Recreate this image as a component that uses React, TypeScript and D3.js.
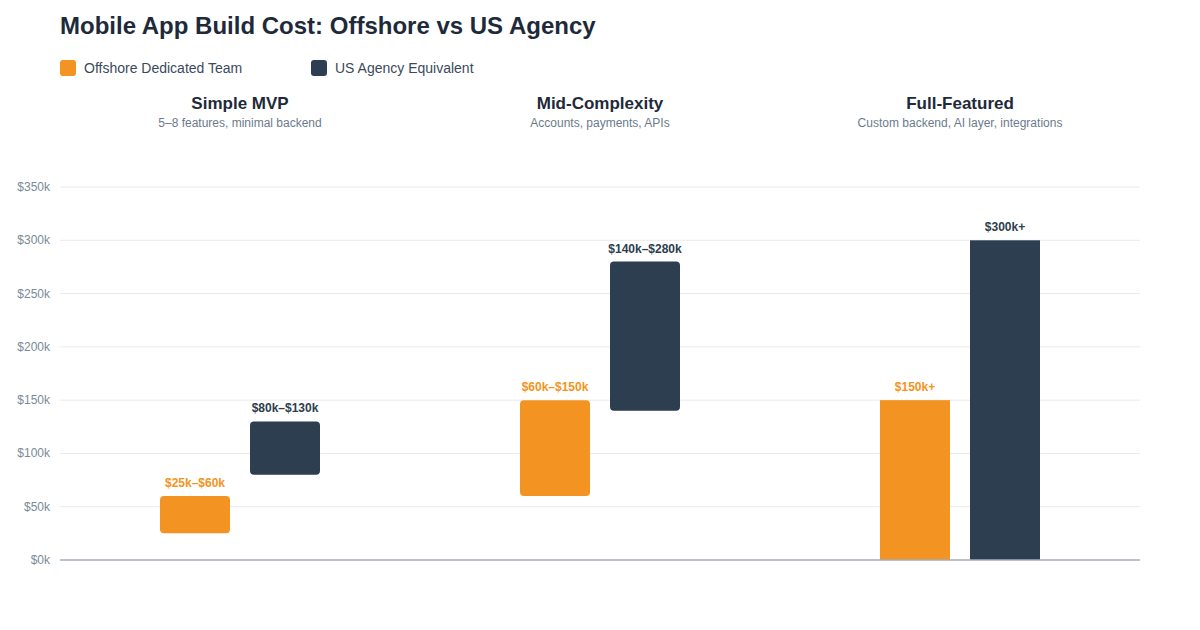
import * as d3 from "d3";

// tiers and their captions
const tiers = ["Simple MVP", "Mid-Complexity", "Full-Featured"];
const tierNotes = [
  "5–8 features, minimal backend",
  "Accounts, payments, APIs",
  "Custom backend, AI layer, integrations",
];

const seriesNames = ["Offshore Dedicated Team", "US Agency Equivalent"];
const seriesColors = ["#f39422", "#2d3e50"];

// cost ranges in $k: [low, high]; open-ended tiers start at 0
const offshoreLow = [25, 60, 0];
const offshoreHigh = [60, 150, 150];
const usLow = [80, 140, 0];
const usHigh = [130, 280, 300];
const openEnded = [false, false, true];

const offshoreLabels = ["$25k–$60k", "$60k–$150k", "$150k+"];
const usLabels = ["$80k–$130k", "$140k–$280k", "$300k+"];

const yTicks = [0, 50, 100, 150, 200, 250, 300, 350];

const W = 1200;
const H = 630;
const M = { left: 60, right: 60, top: 187, bottom: 70 };
const FONT = "'Liberation Sans', Arial, Helvetica, sans-serif";

export default function App() {
  const x = d3.scaleBand().domain(tiers).range([M.left, W - M.right]);
  // two 70px bars with a 20px gap, centred in each tier
  const inner = d3.scaleBand().domain(seriesNames).range([-80, 80]).paddingInner(2 / 9);
  const y = d3.scaleLinear().domain([0, 350]).range([H - M.bottom, M.top]);

  const bars = tiers.flatMap((t, i) => [
    { tier: t, s: 0, lo: offshoreLow[i], hi: offshoreHigh[i], label: offshoreLabels[i], open: openEnded[i] },
    { tier: t, s: 1, lo: usLow[i], hi: usHigh[i], label: usLabels[i], open: openEnded[i] },
  ]);

  const legendX = [60, 311];

  return (
    <svg width={W} height={H} style={{ display: "block", margin: "-8px", fontFamily: FONT }}>
      <rect width={W} height={H} fill="#ffffff" />
      <text x={60} y={34} fontSize={24} fontWeight={700} fill="#1e2a3a">
        Mobile App Build Cost: Offshore vs US Agency
      </text>

      {seriesNames.map((name, i) => (
        <g key={name} transform={`translate(${legendX[i]},60)`}>
          <rect width={16} height={16} rx={3} fill={seriesColors[i]} />
          <text x={24} y={13} fontSize={14} fill="#3b4a5a">
            {name}
          </text>
        </g>
      ))}

      {tiers.map((t, i) => (
        <g key={t} transform={`translate(${(x(t) ?? 0) + x.bandwidth() / 2},0)`}>
          <text y={109} textAnchor="middle" fontSize={17} fontWeight={700} fill="#1e2a3a">
            {t}
          </text>
          <text y={127} textAnchor="middle" fontSize={12} fill="#6b7b8c">
            {tierNotes[i]}
          </text>
        </g>
      ))}

      {yTicks.map((v) => (
        <g key={v}>
          {v > 0 && (
            <line x1={M.left} x2={W - M.right} y1={y(v)} y2={y(v)} stroke="#e7eaee" strokeWidth={1} />
          )}
          <text x={50} y={y(v) + 4} textAnchor="end" fontSize={12} fill="#7a8a99">
            ${v}k
          </text>
        </g>
      ))}

      {bars.map((b) => {
        const bx = (x(b.tier) ?? 0) + x.bandwidth() / 2 + (inner(seriesNames[b.s]) ?? 0);
        const top = y(b.hi);
        const bottom = y(b.lo);
        return (
          <g key={b.tier + b.s}>
            <rect
              x={bx}
              y={top}
              width={inner.bandwidth()}
              height={bottom - top}
              rx={b.open ? 0 : 4}
              fill={seriesColors[b.s]}
            />
            <text
              x={bx + inner.bandwidth() / 2}
              y={top - 9}
              textAnchor="middle"
              fontSize={12}
              fontWeight={700}
              fill={seriesColors[b.s]}
            >
              {b.label}
            </text>
          </g>
        );
      })}

      <line x1={M.left} x2={W - M.right} y1={y(0)} y2={y(0)} stroke="#a3acbd" strokeWidth={1.5} />
    </svg>
  );
}
